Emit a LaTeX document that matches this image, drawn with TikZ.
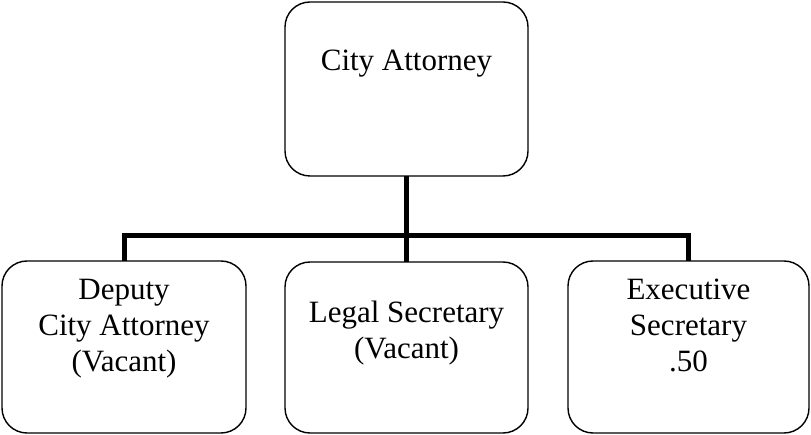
\documentclass[tikz,border=0pt]{standalone}
\usepackage{fontspec}
\setmainfont{Liberation Serif}
\begin{document}
\begin{tikzpicture}[x=1pt,y=-1pt,
  box/.style={draw, line width=1.4pt, rounded corners=25pt, rectangle,
    inner sep=0pt, outer sep=0pt},
  lbl/.style={anchor=base, inner sep=0pt, font=\fontsize{31}{36}\selectfont},
  bus/.style={line width=5pt, line join=miter}]
  \useasboundingbox (0,0) rectangle (811,435);

  % position boxes
  \node[box, minimum width=243pt, minimum height=174pt] (att) at (406.5,89) {};
  \node[box, minimum width=244pt, minimum height=172pt] (dep) at (124,347) {};
  \node[box, minimum width=243pt, minimum height=171pt] (leg) at (406.5,347.5) {};
  \node[box, minimum width=241pt, minimum height=172pt] (exe) at (688.5,347) {};

  % titles
  \node[lbl] (attA) at (406.5,71) {City Attorney};

  \node[lbl] (depA) at (124,300) {Deputy};
  \node[lbl] (depB) at (124,336) {City Attorney};
  \node[lbl] (depC) at (124,372) {(Vacant)};

  \node[lbl] (legA) at (406.5,323) {Legal Secretary};
  \node[lbl] (legB) at (406.5,359) {(Vacant)};

  \node[lbl] (exeA) at (688.5,300) {Executive};
  \node[lbl] (exeB) at (688.5,336) {Secretary};
  \node[lbl] (exeC) at (688.5,372) {.50};

  % reporting lines
  \coordinate (hub) at (406.5,236);
  \draw[bus] (att.south) -- (leg.north);
  \draw[bus] (dep.north) |- (hub) -| (exe.north);
\end{tikzpicture}
\end{document}
